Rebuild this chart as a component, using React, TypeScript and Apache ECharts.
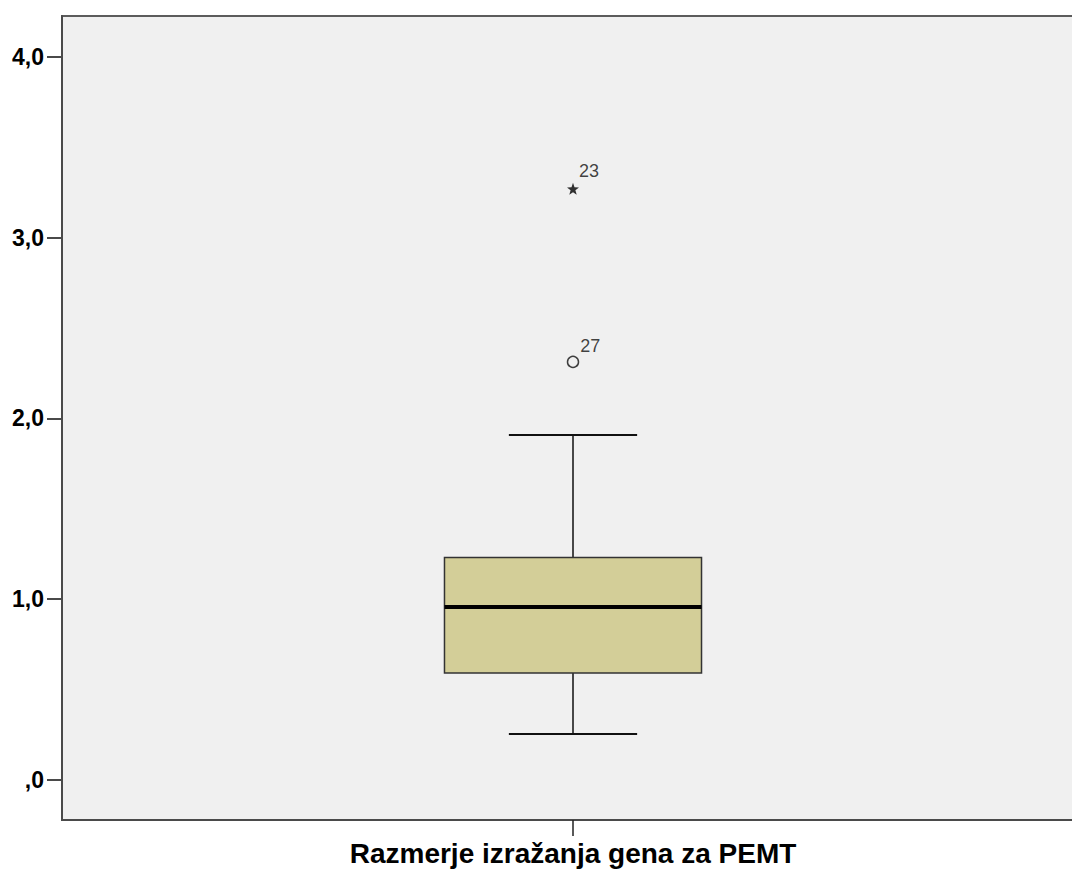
import React, { useEffect, useRef } from "react";
import * as echarts from "echarts";

const categories = ["Razmerje izražanja gena za PEMT"];
// [categoryIndex, lowerWhisker, Q1, median, Q3, upperWhisker]
const boxStats = [[0, 0.252, 0.59, 0.955, 1.229, 1.908]];
const mildOutliers = [[0, 2.312, "27"]];
const extremeOutliers = [[0, 3.27, "23"]];
const yTicks = [0, 1, 2, 3, 4];
const yTickLabels = [",0", "1,0", "2,0", "3,0", "4,0"];

const STAR =
  "path://M0,-10L2.35,-3.24L9.51,-3.09L3.8,1.24L5.88,8.09L0,4L-5.88,8.09L-3.8,1.24L-9.51,-3.09L-2.35,-3.24Z";

export default function App() {
  const ref = useRef<HTMLDivElement>(null);
  useEffect(() => {
    if (!ref.current) return;
    const chart = echarts.init(ref.current, null, { renderer: "svg" });
    const axisColor = "#4a4a4a";
    chart.setOption({
      animation: false,
      backgroundColor: "#ffffff",
      grid: {
        left: 62,
        top: 16,
        right: 0,
        bottom: 51,
        show: true,
        backgroundColor: "#f0f0f0",
        borderColor: "#5c5c5c",
        borderWidth: 2,
      },
      xAxis: {
        type: "category",
        data: categories,
        axisLine: { show: true, onZero: false, lineStyle: { color: axisColor, width: 2 } },
        axisTick: {
          show: true,
          alignWithLabel: true,
          inside: false,
          length: 16,
          lineStyle: { color: "#222", width: 1.5 },
        },
        axisLabel: {
          margin: 19,
          fontFamily: "Arial, 'Liberation Sans', sans-serif",
          fontWeight: "bold",
          fontSize: 28,
          color: "#000",
        },
        splitLine: { show: false },
      },
      yAxis: {
        type: "value",
        min: -0.224,
        max: 4.227,
        axisLine: { show: true, lineStyle: { color: axisColor, width: 2 } },
        axisTick: {
          show: true,
          length: 15,
          customValues: yTicks,
          lineStyle: { color: axisColor, width: 2 },
        },
        axisLabel: {
          margin: 18,
          customValues: yTicks,
          formatter: (v: number) => {
            const i = yTicks.indexOf(Math.round(v * 1000) / 1000);
            return i >= 0 ? yTickLabels[i] : "";
          },
          fontFamily: "Arial, 'Liberation Sans', sans-serif",
          fontWeight: "bold",
          fontSize: 23,
          color: "#000",
        },
        splitLine: { show: false },
      },
      series: [
        {
          type: "custom",
          data: boxStats,
          encode: { x: 0, y: [1, 2, 3, 4, 5] },
          renderItem: (params: any, api: any) => {
            const x = api.value(0);
            const low = api.coord([x, api.value(1)]);
            const q1 = api.coord([x, api.value(2)]);
            const med = api.coord([x, api.value(3)]);
            const q3 = api.coord([x, api.value(4)]);
            const high = api.coord([x, api.value(5)]);
            const band = api.size([1, 0])[0];
            const bw = band * 0.2515;
            const cw = band * 0.1255;
            const cx = low[0];
            const lineStyle = { stroke: "#111", lineWidth: 1.5 };
            return {
              type: "group",
              children: [
                {
                  type: "line",
                  shape: { x1: cx, y1: high[1], x2: cx, y2: q3[1] },
                  style: lineStyle,
                },
                {
                  type: "line",
                  shape: { x1: cx, y1: q1[1], x2: cx, y2: low[1] },
                  style: lineStyle,
                },
                {
                  type: "line",
                  shape: { x1: cx - cw / 2, y1: high[1], x2: cx + cw / 2, y2: high[1] },
                  style: { stroke: "#111", lineWidth: 2 },
                },
                {
                  type: "line",
                  shape: { x1: cx - cw / 2, y1: low[1], x2: cx + cw / 2, y2: low[1] },
                  style: { stroke: "#111", lineWidth: 2 },
                },
                {
                  type: "rect",
                  shape: { x: cx - bw / 2, y: q3[1], width: bw, height: q1[1] - q3[1] },
                  style: { fill: "#d3ce98", stroke: "#333", lineWidth: 1.5 },
                },
                {
                  type: "line",
                  shape: { x1: cx - bw / 2, y1: med[1], x2: cx + bw / 2, y2: med[1] },
                  style: { stroke: "#000", lineWidth: 4 },
                },
              ],
            };
          },
          z: 2,
        },
        {
          type: "scatter",
          data: mildOutliers,
          symbol: "circle",
          symbolSize: 11,
          itemStyle: { color: "rgba(0,0,0,0)", borderColor: "#111", borderWidth: 1.5 },
          label: {
            show: true,
            formatter: (p: any) => p.data[2],
            position: "right",
            offset: [-4, -16],
            fontFamily: "Arial, 'Liberation Sans', sans-serif",
            fontSize: 18,
            color: "#111",
          },
          z: 3,
        },
        {
          type: "scatter",
          data: extremeOutliers,
          symbol: STAR,
          symbolSize: 12,
          itemStyle: { color: "#000" },
          label: {
            show: true,
            formatter: (p: any) => p.data[2],
            position: "right",
            offset: [-5, -18],
            fontFamily: "Arial, 'Liberation Sans', sans-serif",
            fontSize: 18,
            color: "#111",
          },
          z: 3,
        },
      ],
    });
    return () => chart.dispose();
  }, []);
  return (
    <div style={{ position: "fixed", left: 0, top: 0, width: 1072, height: 871, overflow: "hidden" }}>
      <div ref={ref} style={{ width: 1084, height: 871 }} />
    </div>
  );
}
